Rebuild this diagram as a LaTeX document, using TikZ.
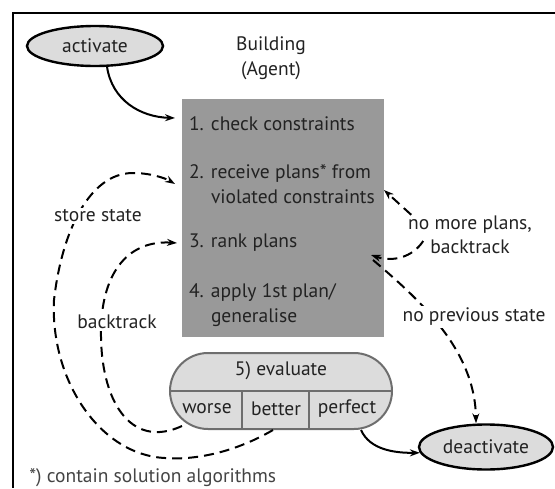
\documentclass[tikz,border=0pt]{standalone}
\usepackage{fontspec}
\setmainfont{PT Sans}
\usetikzlibrary{arrows.meta,shapes.geometric}
\definecolor{boxgray}{HTML}{999999}
\definecolor{palegray}{HTML}{DCDCDC}
\definecolor{rimgray}{HTML}{6E6E6E}
\definecolor{inkgray}{HTML}{222222}
\definecolor{notegray}{HTML}{444444}
\newcommand{\stufe}[1]{\makebox[22pt][l]{#1}}
\begin{document}
\begin{tikzpicture}[x=1pt,y=-1pt,line width=2pt,
    font=\fontsize{19.5}{24.5}\selectfont,text=inkgray,
    pfeil/.style={-{Stealth[length=10pt,width=7pt]}},
    strich/.style={pfeil,dash pattern=on 10pt off 6pt},
    endpunkt/.style={draw,ellipse,fill=palegray,line width=2.4pt,minimum width=136pt,minimum height=40pt,inner sep=0pt},
    schritt/.style={anchor=west,align=left,inner sep=0pt},
    marke/.style={fill=white,inner sep=2pt,align=center}]
  \useasboundingbox (0,0) rectangle (555,488);
  % frame
  \draw[line width=2.6pt] (555,13) -- (13,13) -- (13,488);

  \node[endpunkt] at (95,46) (act) {activate};
  \node[align=center] at (271,58) (titel) {Building\\(Agent)};

  % the agent box
  \node[fill=boxgray,minimum width=202pt,minimum height=238pt,inner sep=0pt] at (283,218) (box) {};
  \node[schritt] at (188,124) (s1) {\stufe{1.}check constraints};
  \node[schritt] at (188,184) (s2) {\stufe{2.}receive plans* from\\\stufe{}violated constraints};
  \node[schritt] at (188,243) (s3) {\stufe{3.}rank plans};
  \node[schritt] at (188,305) (s4) {\stufe{4.}apply 1st plan/\\\stufe{}generalise};

  % evaluation
  \node[draw=rimgray,fill=palegray,rounded corners=38pt,minimum width=222pt,minimum height=76pt] at (281,391) (eval) {};
  \draw[rimgray] (eval.west) -- (eval.east);
  \draw[rimgray] (242,391) -- (242,429);
  \draw[rimgray] (309,391) -- (309,429);
  \node at (281,371) (bewert) {5) evaluate};
  \node at (207,409) (worse) {worse};
  \node at (276,409) (better) {better};
  \node at (347,409) (perfect) {perfect};

  \node[endpunkt,minimum width=134pt,minimum height=45pt] at (486,447) (deact) {deactivate};

  \draw[pfeil] (act.-60) .. controls (112,100) and (140,117) .. ([shift={(-6,-6)}]box.west |- s1);
  \draw[pfeil] ([xshift=-32]eval.south east) .. controls (370,450) and (395,453) .. (deact.185);

  % dashed loops
  \draw[strich] ([xshift=-8]eval.south) .. controls (230,455) and (190,460) .. (165,458)
    .. controls (100,455) and (50,380) .. (54,300) .. controls (62,230) and (90,173) .. (133,173)
    .. controls (150,173) and (165,178) .. ([xshift=-6]box.west |- s2);
  \draw[strich] ([shift={(13,-4)}]eval.south west) .. controls (130,450) and (100,400) .. (101,330)
    .. controls (102,270) and (130,240) .. ([xshift=-4]box.west |- s3);

  \node[marke] at (470,235) (mehr) {no more plans,\\backtrack};
  \draw[strich] ([shift={(6,2)}]mehr.north west) -- ([shift={(-1,6)}]box.east |- s2);
  \draw[strich] ([shift={(18,6)}]mehr.west) .. controls (412,258) and (392,262) .. ([shift={(-14,12)}]box.east |- s3);
  \draw[strich] ([shift={(-12,17)}]box.east |- s3) .. controls (420,300) and (475,350) .. ([xshift=-10]deact.north);

  \node[marke] at (474,317) (keinvor) {no previous state};
  \node[marke] at (98,216) (speichern) {store state};
  \node[marke] at (117,322) (zurueck) {backtrack};

  \node[anchor=west,text=notegray] at (25,478) (fussnote) {*) contain solution algorithms};
\end{tikzpicture}
\end{document}
